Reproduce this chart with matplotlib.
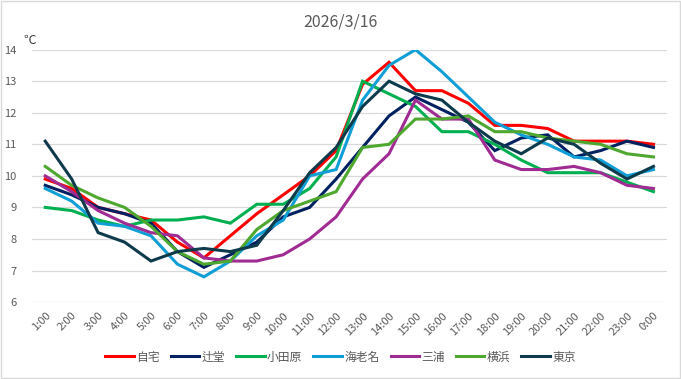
import matplotlib
matplotlib.use("Agg")
import matplotlib.pyplot as plt
from matplotlib.patches import Rectangle

plt.rcParams['font.family'] = ['Noto Sans CJK JP', 'DejaVu Sans']

hours = ["1:00", "2:00", "3:00", "4:00", "5:00", "6:00", "7:00", "8:00",
         "9:00", "10:00", "11:00", "12:00", "13:00", "14:00", "15:00", "16:00",
         "17:00", "18:00", "19:00", "20:00", "21:00", "22:00", "23:00", "0:00"]

jitaku = [9.9, 9.6, 9.0, 8.8, 8.6, 7.9, 7.4, 8.1, 8.8, 9.4, 10.0, 10.8,
          12.9, 13.6, 12.7, 12.7, 12.3, 11.6, 11.6, 11.5, 11.1, 11.1, 11.1, 11.0]
tsujido = [9.7, 9.4, 9.0, 8.8, 8.5, 7.6, 7.1, 7.5, 7.9, 8.7, 9.0, 9.9,
           10.9, 11.9, 12.5, 12.1, 11.7, 10.8, 11.2, 11.3, 10.6, 10.8, 11.1, 10.9]
odawara = [9.0, 8.9, 8.6, 8.4, 8.6, 8.6, 8.7, 8.5, 9.1, 9.1, 9.6, 10.6,
           13.0, 12.6, 12.2, 11.4, 11.4, 11.0, 10.5, 10.1, 10.1, 10.1, 9.8, 9.5]
ebina = [9.6, 9.2, 8.5, 8.4, 8.1, 7.2, 6.8, 7.3, 8.1, 8.6, 10.0, 10.2,
         12.4, 13.5, 14.0, 13.3, 12.5, 11.7, 11.3, 11.0, 10.6, 10.5, 10.0, 10.2]
miura = [10.0, 9.5, 8.9, 8.5, 8.2, 8.1, 7.4, 7.3, 7.3, 7.5, 8.0, 8.7,
         9.9, 10.7, 12.4, 11.8, 11.8, 10.5, 10.2, 10.2, 10.3, 10.1, 9.7, 9.6]
yokohama = [10.3, 9.7, 9.3, 9.0, 8.4, 7.6, 7.2, 7.3, 8.3, 8.9, 9.2, 9.5,
            10.9, 11.0, 11.8, 11.8, 11.9, 11.4, 11.4, 11.2, 11.1, 11.0, 10.7, 10.6]
tokyo = [11.1, 9.9, 8.2, 7.9, 7.3, 7.6, 7.7, 7.6, 7.8, 8.9, 10.1, 10.9,
         12.2, 13.0, 12.6, 12.4, 11.7, 11.1, 10.7, 11.2, 11.0, 10.4, 9.9, 10.3]

names = ["自宅", "辻堂", "小田原", "海老名", "三浦", "横浜", "東京"]
series = [jitaku, tsujido, odawara, ebina, miura, yokohama, tokyo]
colors = ["#FF0000", "#002060", "#00B050", "#0F9ED5", "#A02B93", "#4EA72E", "#0E3B4C"]

fig = plt.figure(figsize=(6.81, 3.79), dpi=100)
ax = fig.add_axes([0.047, 0.203, 0.932, 0.666])

x = list(range(len(hours)))
for name, vals, c in zip(names, series, colors):
    ax.plot(x, vals, color=c, lw=2.2, label=name, solid_joinstyle="miter")

ax.set_xlim(-0.5, len(hours) - 0.5)
ax.set_ylim(6, 14)
ax.set_yticks(range(6, 15))
ax.set_xticks(x)
ax.set_xticklabels(hours, rotation=45, ha="right", rotation_mode="anchor")
ax.tick_params(axis="both", length=0, labelsize=8, labelcolor="#595959")
ax.tick_params(axis="y", pad=11)
ax.tick_params(axis="x", pad=6)
ax.grid(axis="y", color="#D9D9D9", lw=0.9)
ax.set_axisbelow(True)
for s in ax.spines.values():
    s.set_visible(False)

fig.text(0.5, 0.942, "2026/3/16", ha="center", va="center", fontsize=11.5, color="#595959")
fig.text(0.034, 0.893, "℃", ha="left", va="center", fontsize=9, color="#404040")

leg = fig.legend(loc="center", bbox_to_anchor=(0.5, 0.058), ncol=7, frameon=False,
                 fontsize=8.5, handlelength=2.4, handletextpad=0.2, columnspacing=0.95)
for t in leg.get_texts():
    t.set_color("#595959")

fig.patches.append(Rectangle((0.001, 0.002), 0.997, 0.995, transform=fig.transFigure,
                             fill=False, edgecolor="#D9D9D9", lw=1))

fig.savefig("out.png", dpi=100, facecolor="white")
